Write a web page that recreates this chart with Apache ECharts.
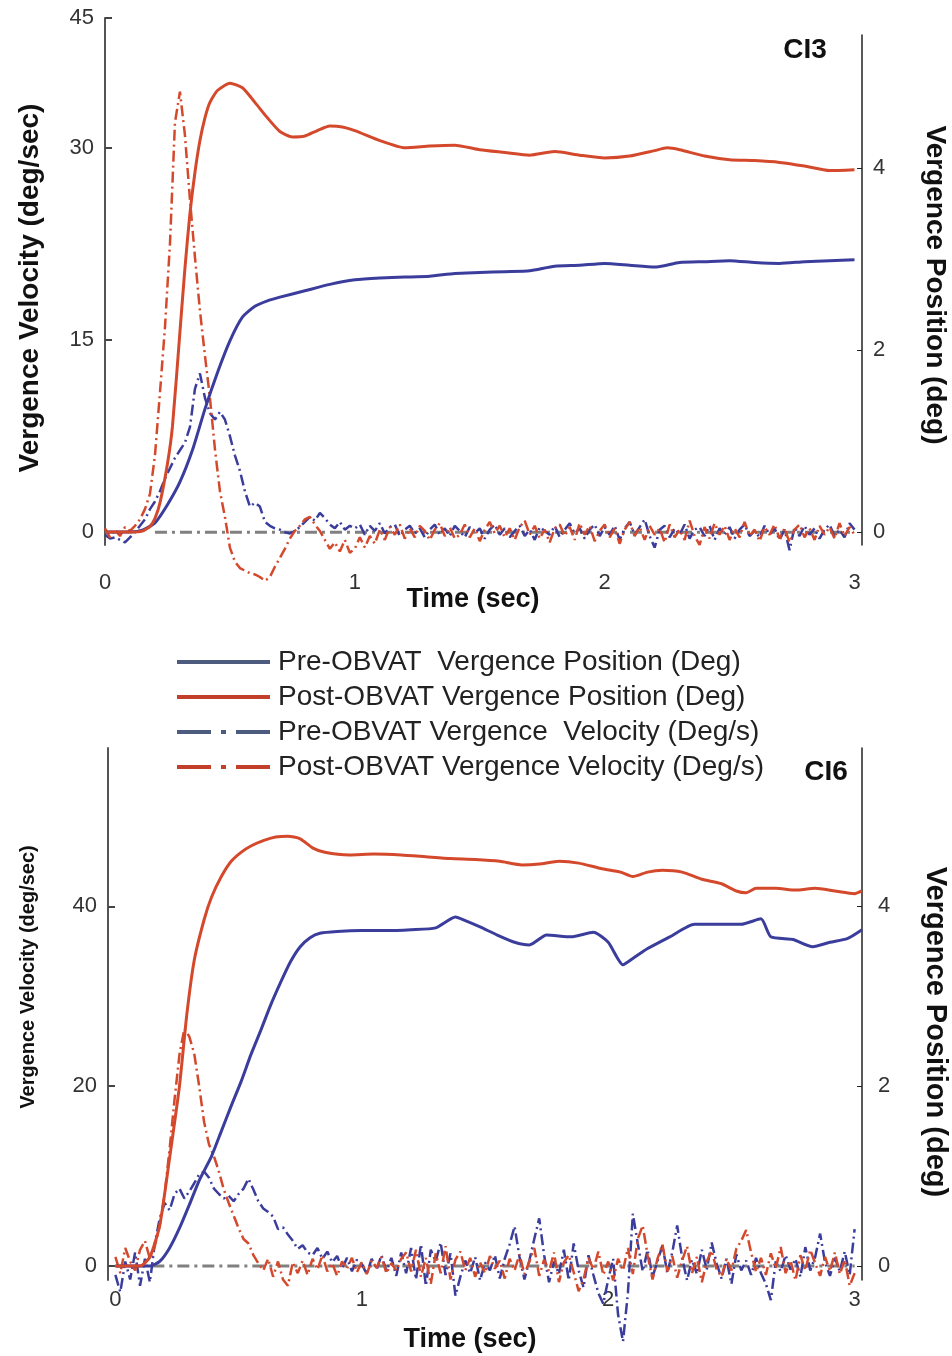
<!DOCTYPE html>
<html>
<head>
<meta charset="utf-8">
<script src="https://cdn.jsdelivr.net/npm/echarts@6/dist/echarts.min.js"></script>
<style>
html,body{margin:0;padding:0;background:#fff;}
#chart{width:952px;height:1356px;}
</style>
</head>
<body>
<div id="chart"></div>
<script>
// ---------------- DATA ----------------
const seriesNames = [
  'Pre-OBVAT  Vergence Position (Deg)',
  'Post-OBVAT Vergence Position (Deg)',
  'Pre-OBVAT Vergence  Velocity (Deg/s)',
  'Post-OBVAT Vergence Velocity (Deg/s)'
];
const panelTitles = ['CI3', 'CI6'];
const timeTicks = [0, 1, 2, 3];
const topVelTicks = [0, 15, 30];
const topVelTopLabel = '45';
const botVelTicks = [0, 20, 40];
const posTicks = [0, 2, 4];

// velocity traces sampled every 0.02 s from 0 to 3 s (151 samples)
const velStep = 0.02;

// ---- Panel CI3 ----
const ci3PosTimePre = [0,0.1,0.15,0.2,0.25,0.3,0.35,0.4,0.45,0.5,0.55,0.6,0.65,0.7,0.8,0.9,1.0,1.1,1.2,1.3,1.4,1.5,1.6,1.7,1.8,1.9,2.0,2.1,2.2,2.3,2.4,2.5,2.6,2.7,2.8,2.9,3.0];
const ci3PosPre = [0,0,0.02,0.1,0.3,0.55,0.9,1.35,1.75,2.1,2.36,2.48,2.54,2.58,2.65,2.72,2.77,2.79,2.8,2.81,2.84,2.85,2.86,2.87,2.92,2.93,2.95,2.93,2.91,2.96,2.97,2.98,2.96,2.95,2.97,2.98,2.99];
const ci3PosTimePost = [0,0.1,0.15,0.18,0.2,0.22,0.25,0.27,0.3,0.32,0.34,0.36,0.38,0.4,0.42,0.45,0.5,0.55,0.6,0.65,0.7,0.75,0.8,0.85,0.9,0.95,1.0,1.1,1.2,1.3,1.4,1.5,1.6,1.7,1.8,1.9,2.0,2.1,2.2,2.25,2.3,2.4,2.5,2.6,2.7,2.8,2.9,3.0];
const ci3PosPost = [0,0,0.01,0.06,0.15,0.32,0.75,1.16,2.2,2.9,3.5,3.95,4.3,4.55,4.72,4.85,4.93,4.88,4.72,4.55,4.4,4.34,4.35,4.41,4.46,4.45,4.41,4.3,4.22,4.24,4.25,4.2,4.17,4.14,4.18,4.14,4.11,4.13,4.19,4.22,4.2,4.13,4.09,4.08,4.06,4.02,3.97,3.98];
const ci3VelPre = [
 -0.2,-0.5,-0.4,-0.6,-0.8,-0.4,0.0,0.5,1.0,1.8,
 2.4,3.2,4.2,5.0,5.8,6.4,7.0,8.2,11.2,12.4,
 10.5,9.3,8.8,9.4,8.8,7.5,6.0,4.8,3.2,2.0,
 2.3,2.0,0.8,0.5,0.3,0.2,0.0,-0.1,0.1,0.4,
 0.8,1.2,0.9,1.5,1.1,0.6,0.3,0.8,0.2,0.5,
 0.3,0.6,-0.2,0.5,0.1,0.7,-0.1,0.4,0.6,-0.3,
 0.2,0.5,-0.1,0.3,-0.4,0.2,0.6,-0.2,0.3,-0.3,
 0.5,0.1,-0.4,0.4,-0.1,0.3,-0.5,0.2,0.6,-0.2,
 0.3,-0.4,0.1,0.5,-0.3,0.2,-0.6,0.4,0.1,-0.2,
 0.5,-0.4,0.2,0.7,-0.1,0.3,-0.5,0.2,0.6,-0.3,
 0.4,-0.2,0.5,-0.6,0.3,0.8,-0.2,0.4,1.0,-0.3,
 -1.2,0.2,0.5,-0.4,0.3,-0.2,0.6,-0.5,0.2,0.4,
 -0.3,0.5,-0.6,0.3,-0.2,0.4,-0.5,0.2,0.6,-0.3,
 0.1,-0.4,0.5,-0.2,0.3,-0.6,0.2,-1.4,0.4,-0.3,
 0.5,-0.2,0.3,-0.5,0.2,0.6,-0.3,0.2,-0.4,0.7,
 0.2];
const ci3VelPost = [
 0.3,-0.4,0.2,-0.3,0.4,0.1,0.5,1.0,1.8,3.0,
 6.0,10.9,16,22.5,32.0,34.4,31,26,21.5,17.3,
 13.8,10.5,6.5,3.2,1.2,-1.2,-2.3,-2.8,-3.0,-3.2,
 -3.3,-3.5,-3.8,-3.5,-2.7,-2.0,-1.3,-0.5,0.1,0.5,
 1.0,1.2,0.6,0.1,-0.6,-1.3,-0.8,-1.5,-0.6,-1.6,
 -1.3,-0.4,-1.2,-0.3,-0.9,0.2,-0.6,0.4,-0.2,0.6,
 -0.5,0.3,-0.4,0.5,0.1,-0.6,0.2,0.7,-0.3,0.4,
 -0.5,-0.2,0.6,-0.4,0.3,-0.7,0.2,0.8,-0.1,0.5,
 -0.4,0.3,-0.6,0.4,0.9,-0.2,0.5,-0.5,0.2,-0.8,
 0.3,0.6,-0.3,0.4,-0.6,0.7,-0.2,0.5,-0.7,0.1,
 0.6,-0.4,0.3,-0.9,0.2,0.8,-0.3,0.4,-0.6,0.5,
 -0.2,0.3,-0.8,0.6,-0.4,0.2,-0.6,0.9,-0.3,-1.0,
 0.4,-0.5,0.7,-0.2,0.5,-0.6,0.3,-0.4,0.8,-0.3,
 0.2,-0.7,0.4,-0.2,0.6,-0.5,0.3,-0.8,0.2,0.6,
 -0.4,0.3,-0.6,0.5,-0.2,0.4,-0.5,0.7,-0.3,0.4,
 -0.2];
const ci3ZeroLine = [[0.2, 0], [3.0, 0]];

// ---- Panel CI6 ----
const ci6PosTimePre = [0,0.1,0.14,0.18,0.22,0.26,0.3,0.34,0.39,0.43,0.47,0.51,0.55,0.59,0.63,0.67,0.71,0.75,0.79,0.83,0.9,1.0,1.1,1.2,1.3,1.38,1.42,1.48,1.55,1.62,1.68,1.75,1.85,1.94,2.0,2.06,2.1,2.16,2.25,2.35,2.45,2.54,2.62,2.66,2.75,2.83,2.9,2.97,3.03];
const ci6PosPre = [0,0,0,0.05,0.2,0.42,0.68,0.95,1.22,1.5,1.78,2.05,2.35,2.62,2.9,3.15,3.38,3.55,3.65,3.7,3.72,3.73,3.73,3.74,3.76,3.88,3.84,3.77,3.68,3.6,3.57,3.68,3.66,3.71,3.6,3.35,3.42,3.53,3.66,3.8,3.8,3.8,3.86,3.66,3.63,3.55,3.6,3.64,3.74];
const ci6PosTimePost = [0,0.1,0.14,0.18,0.22,0.26,0.29,0.32,0.36,0.39,0.43,0.47,0.51,0.55,0.6,0.65,0.7,0.75,0.8,0.85,0.95,1.05,1.16,1.26,1.36,1.46,1.56,1.65,1.72,1.8,1.88,1.97,2.05,2.1,2.16,2.22,2.3,2.38,2.46,2.52,2.56,2.6,2.68,2.76,2.84,2.92,3.0,3.03];
const ci6PosPost = [0,0,0.1,0.45,1.2,2.0,2.8,3.4,3.85,4.1,4.33,4.5,4.6,4.67,4.73,4.77,4.78,4.75,4.65,4.6,4.57,4.58,4.57,4.55,4.53,4.52,4.5,4.46,4.47,4.5,4.48,4.42,4.38,4.33,4.38,4.4,4.38,4.3,4.25,4.17,4.15,4.2,4.2,4.18,4.2,4.17,4.14,4.17];
const ci6VelPre = [
 -1.0,-2.9,0.5,-1.5,1.5,-2.2,0.8,-1.8,2.5,5.3,
 7.0,6.2,8.0,8.6,7.5,8.3,9.2,10.2,10.5,9.8,
 8.6,8.0,7.5,7.8,7.2,8.0,8.6,9.7,8.5,7.2,
 6.4,6.0,5.5,4.1,4.3,3.5,2.8,1.9,2.3,1.5,
 1.2,2.0,0.8,1.6,0.4,1.1,-0.3,0.9,-0.6,0.7,
 0.2,-0.9,0.8,-0.4,1.2,-0.6,0.9,-1.1,1.5,-0.8,
 2.0,-1.5,2.4,-2.2,1.8,0.5,2.6,-1.0,1.4,-3.3,
 -1.2,0.6,-0.8,1.0,-1.6,0.4,-0.5,1.2,-1.4,0.8,
 2.4,4.4,1.0,-1.5,0.6,3.0,5.3,1.2,-1.8,0.5,
 -0.9,1.8,-1.6,2.5,-0.5,-2.4,1.2,-1.0,-3.0,-4.2,
 -1.5,0.8,-5.4,-8.4,-3.0,5.8,2.5,-0.6,1.8,-1.2,
 0.5,2.3,-0.8,1.5,4.5,0.9,-1.6,0.7,-0.9,1.8,
 -0.4,2.6,0.3,-1.4,0.8,-2.0,1.3,-0.5,0.6,-1.0,
 0.9,-0.8,-2.0,-3.8,0.5,-0.6,1.2,-0.4,0.8,-1.2,
 2.1,-0.5,1.0,3.6,0.4,-1.1,0.9,-0.6,1.6,-1.0,
 4.1];
const ci6VelPost = [
 1.0,-0.8,2.0,0.5,-0.5,1.8,2.8,0.8,2.2,4.5,
 8,13,18.5,23.5,26.4,25.5,23.6,20,16,13.5,
 12.2,10.5,8.5,7,5.6,4.2,3,2.5,1.2,0.3,
 -0.5,0.8,-1.2,0.5,-1.5,-2.2,0.4,-0.8,0.6,-1.0,
 0.8,-0.4,1.2,-0.6,0.3,-1.1,0.5,-0.3,0.9,-0.7,
 0.4,-0.9,0.6,-0.2,1.0,-0.8,0.3,-0.5,0.8,1.5,
 -0.6,1.8,-1.2,0.9,-2.0,1.4,-0.8,2.2,-1.5,0.7,
 1.6,-0.5,0.9,-1.2,0.4,-0.8,1.1,-0.3,0.6,-1.4,
 0.8,-0.5,1.3,-0.9,0.5,2.0,-1.1,0.7,-0.6,1.5,
 -1.8,0.4,1.2,-0.7,-2.8,-1.5,0.9,-0.4,1.6,-1.0,
 0.5,-1.6,0.8,-0.5,2.0,-0.9,3.0,4.5,1.2,-1.5,
 0.8,2.4,-0.6,1.1,-1.3,0.6,2.2,-0.8,1.0,-1.8,
 0.5,1.7,-0.4,-1.2,0.8,-0.5,1.9,2.8,4.0,1.5,
 -0.7,0.9,-1.0,1.4,-0.3,2.1,-0.8,0.6,-1.6,1.2,
 -0.5,1.8,0.3,-1.1,1.0,-0.6,1.5,-0.9,0.7,-2.2,
 -0.8];
const ci6ZeroLine = [[0.15, 0], [3.0, 0]];

// ---------------- STYLE ----------------
const BLUE = '#3b3d9c';
const RED = '#d4492c';
const LEG_BLUE = '#4d5b7e';
const LEG_RED = '#c2402a';
const FONT = '"Liberation Sans", Arial, sans-serif';
const velDash = [11, 4, 2, 4];
const zeroDash = [12, 5, 3, 5];
const ICON_SOLID = 'path://M0,0h93v4h-93z';
const ICON_DASHDOT = 'path://M0,0h34v4h-34z M44,0h5v4h-5z M59,0h34v4h-34z';

function sampled(vals) { return vals.map((v, i) => [Math.round(i * velStep * 100) / 100, v]); }
function paired(ts, vals) { return ts.map((t, i) => [t, vals[i]]); }

function line(name, data, xi, yi, color, width, dash, z) {
  return {
    name: name, type: 'line', data: data, xAxisIndex: xi, yAxisIndex: yi,
    showSymbol: false, symbol: 'none', clip: false, smooth: dash === 'solid' ? 0.2 : false,
    lineStyle: { color: color, width: width, type: dash, cap: 'butt' },
    itemStyle: { color: color }, z: z, silent: true
  };
}

const tickLabel = { fontSize: 22, fontFamily: FONT, color: '#333' };
function titleText(txt, x, y, size, rot) {
  return { type: 'text', x: x, y: y, rotation: rot || 0,
    style: { text: txt, font: 'bold ' + size + 'px ' + FONT, fill: '#111', align: 'center', verticalAlign: 'middle' } };
}

const option = {
  animation: false,
  backgroundColor: '#fff',
  grid: [
    { left: 105, right: 90, top: 18, bottom: 811 },
    { left: 105, right: 90, top: 35, bottom: 811 },
    { left: 108, right: 90, top: 748, bottom: 76 }
  ],
  xAxis: [
    { gridIndex: 0, type: 'value', min: 0, max: 3.03,
      axisLine: { show: false, onZero: false }, axisTick: { show: false }, splitLine: { show: false },
      axisLabel: Object.assign({ customValues: timeTicks, margin: 27 }, tickLabel) },
    { gridIndex: 1, type: 'value', min: 0, max: 3.03, show: false, axisLine: { onZero: false } },
    { gridIndex: 2, type: 'value', min: -0.03, max: 3.03,
      axisLine: { show: false, onZero: false }, axisTick: { show: false }, splitLine: { show: false },
      axisLabel: Object.assign({ customValues: timeTicks, margin: 9 }, tickLabel) }
  ],
  yAxis: [
    { gridIndex: 0, type: 'value', position: 'left', min: -1.0, max: 40.16,
      axisLine: { show: true, onZero: false, lineStyle: { color: '#555', width: 2 } },
      axisTick: { show: true, inside: true, length: 7, lineStyle: { color: '#444', width: 2 },
                  customValues: topVelTicks.concat([40.16]) },
      splitLine: { show: false },
      axisLabel: Object.assign({ margin: 11, customValues: topVelTicks.concat([40.16]),
        formatter: v => (v > 35 ? topVelTopLabel : String(v)) }, tickLabel) },
    { gridIndex: 1, type: 'value', position: 'right', min: -0.143, max: 5.46,
      axisLine: { show: true, onZero: false, lineStyle: { color: '#222', width: 1.5 } },
      axisTick: { show: true, inside: true, length: 5, lineStyle: { color: '#222' }, customValues: posTicks },
      splitLine: { show: false },
      axisLabel: Object.assign({ margin: 11, customValues: posTicks }, tickLabel) },
    { gridIndex: 2, type: 'value', position: 'left', min: -1.56, max: 57.6,
      axisLine: { show: true, onZero: false, lineStyle: { color: '#555', width: 2 } },
      axisTick: { show: true, inside: true, length: 7, lineStyle: { color: '#444', width: 2 }, customValues: botVelTicks },
      splitLine: { show: false },
      axisLabel: Object.assign({ margin: 11, customValues: botVelTicks }, tickLabel) },
    { gridIndex: 2, type: 'value', position: 'right', min: -0.156, max: 5.76,
      axisLine: { show: true, onZero: false, lineStyle: { color: '#222', width: 1.5 } },
      axisTick: { show: true, inside: true, length: 5, lineStyle: { color: '#222' }, customValues: posTicks },
      splitLine: { show: false },
      axisLabel: Object.assign({ margin: 16, customValues: posTicks }, tickLabel) }
  ],
  legend: {
    orient: 'vertical', left: 172, top: 642,
    itemWidth: 93, itemHeight: 4, itemGap: 5,
    selectedMode: false,
    textStyle: { fontSize: 28, fontFamily: FONT, color: '#222', lineHeight: 30, padding: [0, 0, 0, 3] },
    data: [
      { name: seriesNames[0], icon: ICON_SOLID, itemStyle: { color: LEG_BLUE } },
      { name: seriesNames[1], icon: ICON_SOLID, itemStyle: { color: LEG_RED } },
      { name: seriesNames[2], icon: ICON_DASHDOT, itemStyle: { color: LEG_BLUE } },
      { name: seriesNames[3], icon: ICON_DASHDOT, itemStyle: { color: LEG_RED } }
    ]
  },
  graphic: [
    titleText('Vergence Velocity (deg/sec)', 30, 288, 28, Math.PI / 2),
    titleText('Vergence Position (deg)', 935, 285, 28, -Math.PI / 2),
    titleText('Time (sec)', 473, 600, 27),
    titleText(panelTitles[0], 805, 50, 28),
    titleText('Vergence Velocity (deg/sec)', 28, 977, 20, Math.PI / 2),
    titleText('Vergence Position (deg)', 935, 1032, 29, -Math.PI / 2),
    titleText('Time (sec)', 470, 1340, 27),
    titleText(panelTitles[1], 826, 772, 28)
  ],
  series: [
    // CI3
    line('zero-ci3', ci3ZeroLine, 0, 0, '#808080', 3, zeroDash, 1),
    line(seriesNames[2], sampled(ci3VelPre), 0, 0, BLUE, 2.5, velDash, 2),
    line(seriesNames[3], sampled(ci3VelPost), 0, 0, RED, 2.5, velDash, 3),
    line(seriesNames[0], paired(ci3PosTimePre, ci3PosPre), 1, 1, BLUE, 3, 'solid', 4),
    line(seriesNames[1], paired(ci3PosTimePost, ci3PosPost), 1, 1, RED, 3, 'solid', 5),
    // CI6
    line('zero-ci6', ci6ZeroLine, 2, 2, '#808080', 3, zeroDash, 1),
    line(seriesNames[2], sampled(ci6VelPre), 2, 2, BLUE, 2.5, velDash, 2),
    line(seriesNames[3], sampled(ci6VelPost), 2, 2, RED, 2.5, velDash, 3),
    line(seriesNames[0], paired(ci6PosTimePre, ci6PosPre), 2, 3, BLUE, 3, 'solid', 4),
    line(seriesNames[1], paired(ci6PosTimePost, ci6PosPost), 2, 3, RED, 3, 'solid', 5)
  ]
};

const chart = echarts.init(document.getElementById('chart'), null, { renderer: 'canvas' });
chart.setOption(option);
</script>
</body>
</html>
